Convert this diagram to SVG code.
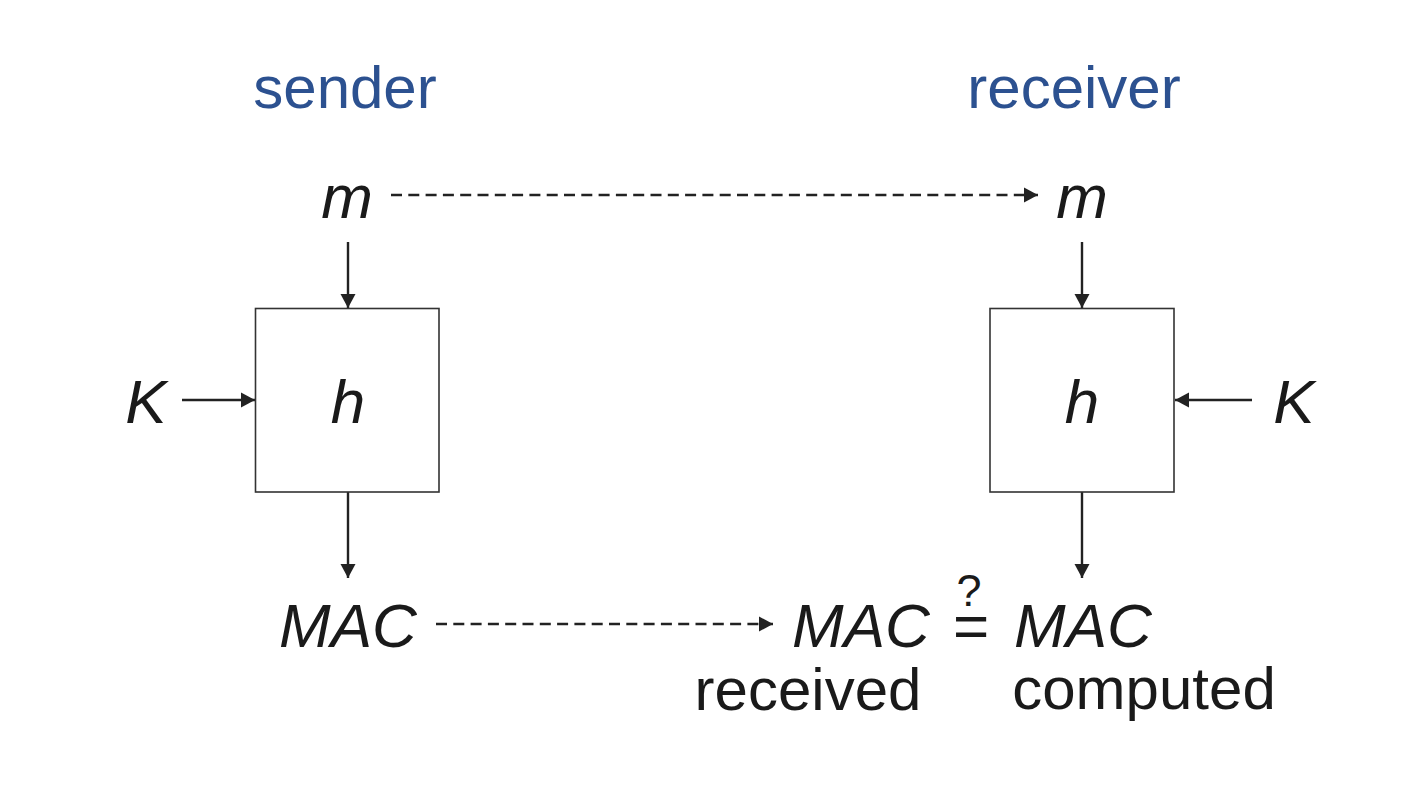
<svg xmlns="http://www.w3.org/2000/svg" width="1402" height="790" viewBox="0 0 1402 790">
  <style>
    .t { font-family: "Liberation Sans", Arial, sans-serif; fill: #1a1a1a; }
    .i { font-style: italic; font-size: 62px; }
    .n { font-size: 60px; }
    .hdr { font-family: "Liberation Sans", Arial, sans-serif; font-size: 60px; fill: #2c5190; }
    .box { fill: #ffffff; stroke: #333333; stroke-width: 1.6; }
    .ln { stroke: #222222; stroke-width: 2.4; fill: none; }
    .dash { stroke: #222222; stroke-width: 2.6; fill: none; stroke-dasharray: 11 6.3; }
  </style>
  <defs>
    <marker id="ah" markerUnits="userSpaceOnUse" markerWidth="16" markerHeight="16" refX="14" refY="8" orient="auto">
      <path d="M0,0.5 L14,8 L0,15.5 Z" fill="#222222"/>
    </marker>
  </defs>
  <rect width="1402" height="790" fill="#ffffff"/>

  <g id="sender-label"><text class="hdr" x="345" y="108" text-anchor="middle">sender</text></g>
  <g id="receiver-label"><text class="hdr" x="1074" y="108" text-anchor="middle">receiver</text></g>

  <g id="connectors">
    <line class="dash" x1="391" y1="195" x2="1038" y2="195" marker-end="url(#ah)"/>
    <line class="ln" x1="348" y1="242" x2="348" y2="308" marker-end="url(#ah)"/>
    <line class="ln" x1="1082" y1="242" x2="1082" y2="308" marker-end="url(#ah)"/>
    <line class="ln" x1="182" y1="400" x2="255" y2="400" marker-end="url(#ah)"/>
    <line class="ln" x1="1252" y1="400" x2="1175" y2="400" marker-end="url(#ah)"/>
    <line class="ln" x1="348" y1="492" x2="348" y2="578" marker-end="url(#ah)"/>
    <line class="ln" x1="1082" y1="492" x2="1082" y2="578" marker-end="url(#ah)"/>
    <line class="dash" x1="436" y1="624" x2="773" y2="624" marker-end="url(#ah)"/>
  </g>

  <g id="m-sender"><text class="t i" x="347" y="218" text-anchor="middle">m</text></g>
  <g id="m-receiver"><text class="t i" x="1082" y="218" text-anchor="middle">m</text></g>

  <g id="h-sender">
    <rect class="box" x="255.5" y="308.5" width="183.5" height="183.5"/>
    <text class="t i" x="348" y="423" text-anchor="middle">h</text>
  </g>
  <g id="h-receiver">
    <rect class="box" x="990" y="308.5" width="184" height="183.5"/>
    <text class="t i" x="1082" y="423" text-anchor="middle">h</text>
  </g>

  <g id="k-sender"><text class="t i" x="146" y="423" text-anchor="middle">K</text></g>
  <g id="k-receiver"><text class="t i" x="1294" y="423" text-anchor="middle">K</text></g>

  <g id="mac-sender"><text class="t i" x="348" y="647" text-anchor="middle">MAC</text></g>
  <g id="mac-received">
    <text class="t i" x="861" y="647" text-anchor="middle">MAC</text>
    <text class="t n" x="808" y="710" text-anchor="middle">received</text>
  </g>
  <g id="compare">
    <text class="t" x="969" y="606" font-size="45" text-anchor="middle">?</text>
    <text class="t" x="971" y="647" font-size="62" text-anchor="middle">=</text>
  </g>
  <g id="mac-computed">
    <text class="t i" x="1083" y="647" text-anchor="middle">MAC</text>
    <text class="t n" x="1144" y="709" text-anchor="middle">computed</text>
  </g>
</svg>
